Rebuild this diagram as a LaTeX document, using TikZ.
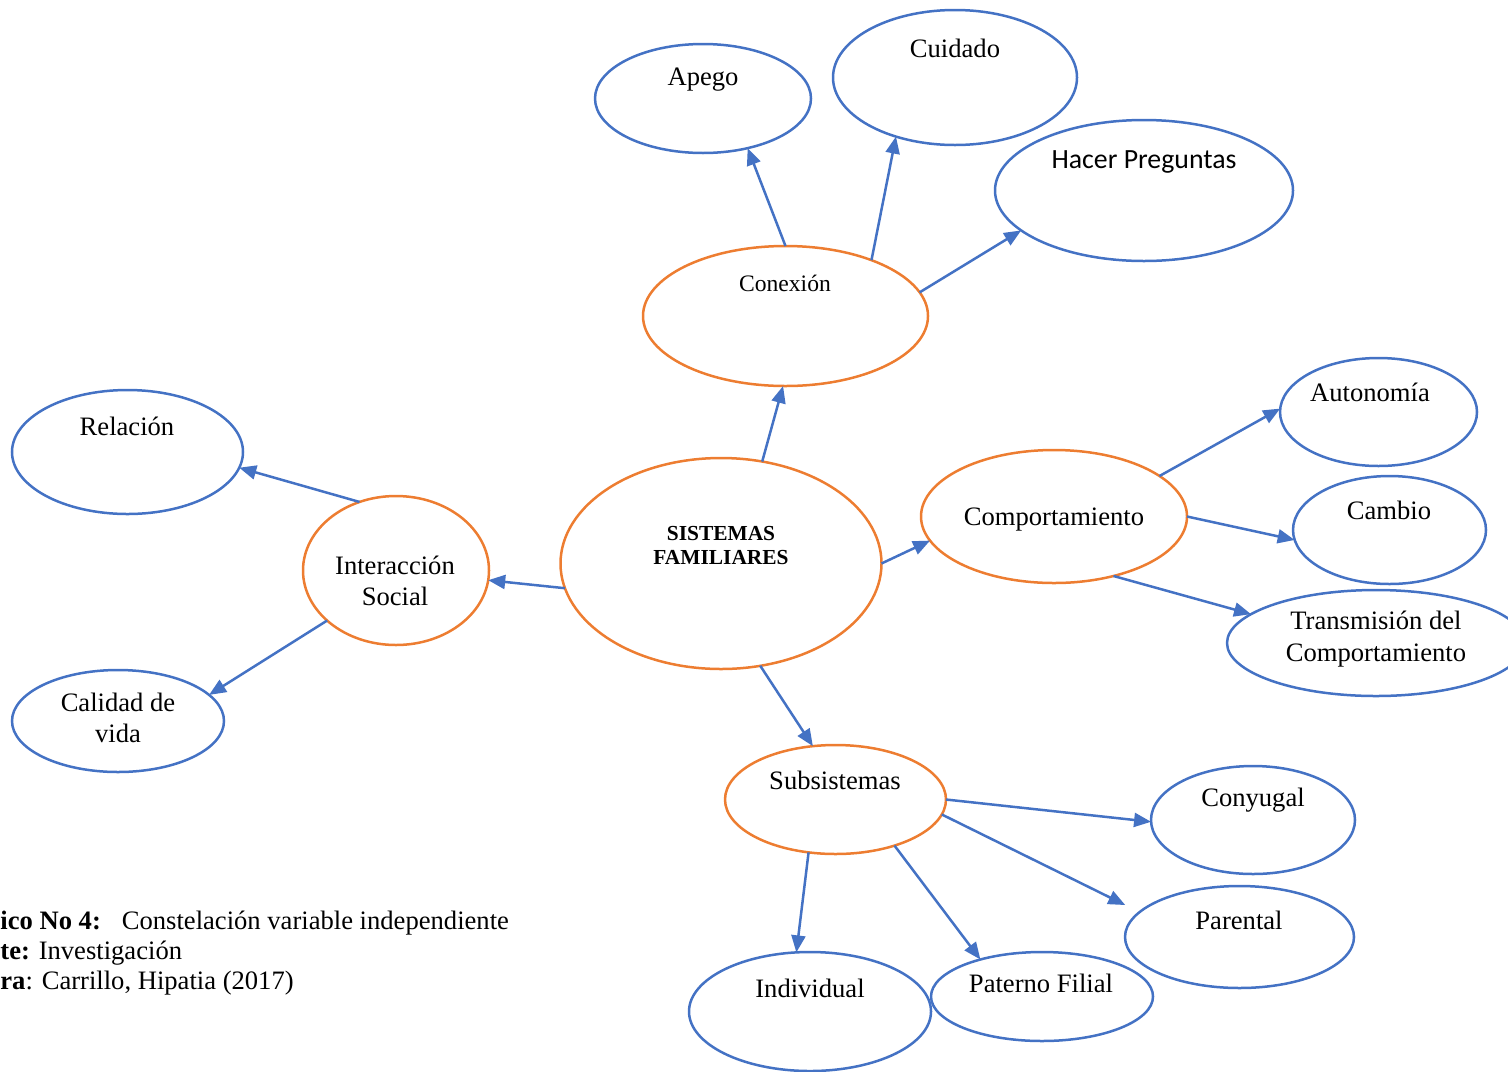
\documentclass[tikz,border=0pt]{standalone}
\usepackage{fontspec}
\setmainfont{Liberation Serif}
\newfontfamily\calibrifont{Carlito}
\usetikzlibrary{shapes.geometric,arrows.meta}
\definecolor{ovalblue}{HTML}{4472C4}
\definecolor{ovalorange}{HTML}{ED7D31}

\begin{document}
\begin{tikzpicture}[x=0.5pt,y=-0.5pt,
  oval/.style={ellipse,draw=ovalblue,line width=1.25pt,inner sep=0pt,outer sep=0pt},
  hub/.style={oval,draw=ovalorange},
  lbl/.style={font=\fontsize{13.3}{15.8}\selectfont,align=center,inner sep=0pt},
  caption/.style={font=\fontsize{13.3}{15.8}\selectfont,anchor=base west,inner sep=0pt},
  link/.style={draw=ovalblue,line width=1.25pt,-{Triangle[length=8.5pt,width=7pt]}}]

\clip (0,0) rectangle (1508,1071);

% central concept
\node[hub,minimum width=160.5pt,minimum height=105.5pt] (sf) at (721,563.5) {};
\node[lbl,font=\fontsize{10.7}{12}\selectfont\bfseries] (sfT) at (721,546) {SISTEMAS\\FAMILIARES};

% Conexion branch
\node[hub,minimum width=142.5pt,minimum height=70pt] (con) at (785.5,316) {};
\node[lbl,font=\fontsize{11.8}{14}\selectfont] (conT) at (785,283) {Conexión};
\node[oval,minimum width=108pt,minimum height=54.5pt] (apego) at (703,98.5) {};
\node[lbl] (apegoT) at (703,80) {Apego};
\node[oval,minimum width=122pt,minimum height=67.5pt] (cuid) at (955,77.5) {};
\node[lbl] (cuidT) at (955,48) {Cuidado};
\node[oval,minimum width=149pt,minimum height=70.5pt] (hacer) at (1144,190.5) {};
\node[lbl,font=\fontsize{13.9}{16}\selectfont\calibrifont] (hacerT) at (1144,162) {Hacer Preguntas};

% Comportamiento branch
\node[hub,minimum width=133pt,minimum height=66.5pt] (comp) at (1054,516.5) {};
\node[lbl] (compT) at (1054,520) {Comportamiento};
\node[oval,minimum width=98.5pt,minimum height=54pt] (auto) at (1378.5,412) {};
\node[lbl] (autoT) at (1370,392) {Autonomía};
\node[oval,minimum width=96.5pt,minimum height=54pt] (camb) at (1389.5,530) {};
\node[lbl] (cambT) at (1389,510) {Cambio};
\node[oval,minimum width=149pt,minimum height=53pt] (trans) at (1376,643) {};
\node[lbl] (transT) at (1376,639) {Transmisión del\\Comportamiento};

% Interaccion branch
\node[hub,minimum width=93pt,minimum height=74.5pt] (inter) at (396,570.5) {};
\node[lbl] (interT) at (395,581) {Interacción\\Social};
\node[oval,minimum width=115.5pt,minimum height=62pt] (rel) at (127.5,452) {};
\node[lbl] (relT) at (127,426) {Relación};
\node[oval,minimum width=106pt,minimum height=51pt] (cal) at (118,721) {};
\node[lbl] (calT) at (118,718) {Calidad de\\vida};

% Subsistemas branch
\node[hub,minimum width=110.5pt,minimum height=54.5pt] (sub) at (835.5,799.5) {};
\node[lbl] (subT) at (835,780) {Subsistemas};
\node[oval,minimum width=102pt,minimum height=54pt] (cony) at (1253,820) {};
\node[lbl] (conyT) at (1253,800) {Conyugal};
\node[oval,minimum width=114.5pt,minimum height=51pt] (par) at (1239.5,937) {};
\node[lbl] (parT) at (1239,920) {Parental};
\node[oval,minimum width=121pt,minimum height=59.5pt] (ind) at (810,1011.5) {};
\node[lbl] (indT) at (810,988) {Individual};
\node[oval,minimum width=111pt,minimum height=44.5pt] (pat) at (1042,996.5) {};
\node[lbl] (patT) at (1041,983) {Paterno Filial};

% connectors
\draw[link] (sf.68.7) -- (con.268.5);
\draw[link] (con.90) -- (apego.312.4);
\draw[link] (con.33.4) -- (cuid.225.7);
\draw[link] (con.10.5) -- (hacer.198.8);

\draw[link] (sf.0) -- (comp.191.6);
\draw[link] (comp.21.9) -- (auto.178.8);
\draw[link] (comp.0) -- (camb.186);
\draw[link] (comp.315.2) -- (trans.167.1);

\draw[link] (sf.189.8) -- (inter.354.8);
\draw[link] (inter.118.6) -- (rel.352.8);
\draw[link] (inter.216.2) -- (cal.16);

\draw[link] (sf.291.4) -- (sub.113.9);
\draw[link] (sub.0) -- (cony.181);
\draw[link,shorten >=8pt] (sub.352) -- (par.166.1);
\draw[link] (sub.243.2) -- (ind.103.9);
\draw[link] (sub.322.9) -- (pat.149.2);

% caption
\node[caption] (cap1) at (0,929) {\textbf{ico No 4:}\hspace{10.5pt}Constelación variable independiente};
\node[caption] (cap2) at (0,959) {\textbf{te:} Investigación};
\node[caption] (cap3) at (0,989) {\textbf{ra}: Carrillo, Hipatia (2017)};
\end{tikzpicture}
\end{document}
